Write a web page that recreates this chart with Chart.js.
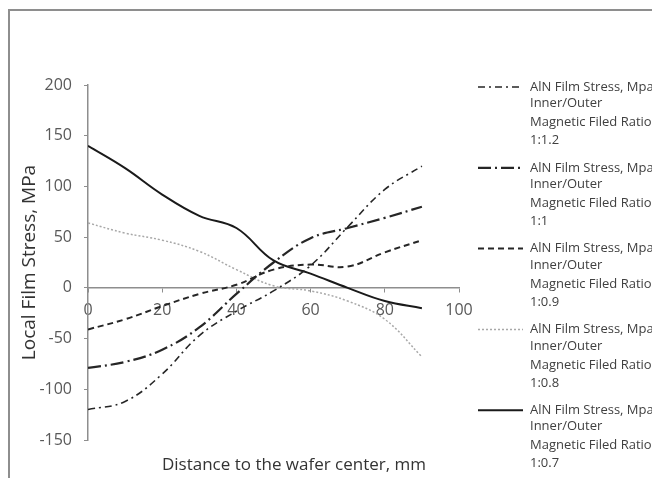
<!DOCTYPE html>
<html>
<head>
<meta charset="utf-8">
<title>AlN Film Stress</title>
<script src="https://cdn.jsdelivr.net/npm/chart.js"></script>
<style>
  body { margin: 0; background: #fff; }
  #wrap { position: relative; width: 652px; height: 478px; overflow: hidden; }
  #frame { position: absolute; left: 8px; top: 9px; right: -4px; bottom: -4px;
           border-left: 2px solid #8e8e8e; border-top: 2px solid #8e8e8e; pointer-events: none; }
</style>
</head>
<body>
<div id="wrap">
  <canvas id="c" width="652" height="478"></canvas>
  <div id="frame"></div>
</div>
<script>
// distance to wafer center, mm
const distance = [0, 10, 20, 30, 40, 50, 60, 70, 80, 90];

// local film stress, MPa, per inner/outer magnetic field ratio
const ratio1_1_2 = [-120, -112, -85, -47, -23, -3, 22, 60, 97, 120];
const ratio1_1   = [-79, -73, -61, -39, -6, 25, 49, 59, 69, 80];
const ratio1_0_9 = [-41, -31, -18, -6, 3, 18, 23, 21, 35, 47];
const ratio1_0_8 = [64, 54, 47, 36, 18, 2, -3, -13, -31, -68];
const ratio1_0_7 = [140, 118, 92, 71, 59, 27, 14, 0, -13, -20];

const ratioLabels = ['1:1.2', '1:1', '1:0.9', '1:0.8', '1:0.7'];
const legendLines = ['AlN Film Stress, Mpa', 'Inner/Outer', 'Magnetic Filed Ratio'];
const xTicks = [0, 20, 40, 60, 80, 100];

const FONT = "'Open Sans', sans-serif";

function pts(arr) { return arr.map((v, i) => ({ x: distance[i], y: v })); }

const styles = [
  { color: '#262626', width: 1.6, dash: [7, 4, 2, 4] },
  { color: '#262626', width: 2.2, dash: [13, 4, 2, 4] },
  { color: '#262626', width: 2, dash: [6, 4] },
  { color: '#a8a8a8', width: 1.5, dash: [2, 2] },
  { color: '#1a1a1a', width: 2, dash: [] }
];

const series = [ratio1_1_2, ratio1_1, ratio1_0_9, ratio1_0_8, ratio1_0_7];

const datasets = series.map((s, i) => ({
  label: ratioLabels[i],
  data: pts(s),
  borderColor: styles[i].color,
  borderWidth: styles[i].width,
  borderDash: styles[i].dash,
  pointRadius: 0,
  tension: 0.4,
  fill: false
}));

// legend on the right, four text lines per entry
const sideLegend = {
  id: 'sideLegend',
  afterDraw(chart) {
    const ctx = chart.ctx;
    ctx.save();
    ctx.font = "13px " + FONT;
    ctx.fillStyle = '#404040';
    ctx.textBaseline = 'middle';
    const offs = [0, 16.5, 35.5, 53.5];
    chart.data.datasets.forEach((ds, i) => {
      const y0 = 87 + i * 80.8;
      ctx.beginPath();
      ctx.strokeStyle = ds.borderColor;
      ctx.lineWidth = ds.borderWidth;
      ctx.setLineDash(ds.borderDash);
      ctx.moveTo(478, y0);
      ctx.lineTo(523, y0);
      ctx.stroke();
      ctx.setLineDash([]);
      const lines = legendLines.concat([ds.label]);
      lines.forEach((t, k) => ctx.fillText(t, 530, y0 + offs[k]));
    });
    ctx.restore();
  }
};

const xTitle = {
  id: 'xTitle',
  afterDraw(chart) {
    const ctx = chart.ctx;
    ctx.save();
    ctx.font = "17px " + FONT;
    ctx.fillStyle = '#333';
    ctx.textAlign = 'center';
    ctx.textBaseline = 'middle';
    ctx.fillText('Distance to the wafer center, mm', 294, 465);
    ctx.restore();
  }
};

new Chart(document.getElementById('c'), {
  type: 'line',
  data: { datasets },
  plugins: [sideLegend, xTitle],
  options: {
    responsive: false,
    animation: false,
    layout: { padding: { top: 85, right: 193, bottom: 38, left: 0 } },
    plugins: { legend: { display: false }, tooltip: { enabled: false } },
    scales: {
      x: {
        type: 'linear',
        min: 0, max: 100,
        position: { y: 0 },
        afterBuildTicks(scale) { scale.ticks = xTicks.map(v => ({ value: v })); },
        grid: { drawOnChartArea: false, tickLength: 4, color: '#8e8e8e' },
        border: { color: '#8e8e8e', width: 1.5 },
        ticks: { color: '#595959', font: { family: FONT, size: 16 }, padding: 9, maxRotation: 0 }
      },
      y: {
        min: -150, max: 200,
        ticks: { stepSize: 50, color: '#595959', font: { family: FONT, size: 16 }, padding: 12 },
        grid: { drawOnChartArea: false, tickLength: 4, color: '#8e8e8e' },
        border: { color: '#8e8e8e', width: 1.5 },
        title: { display: true, text: 'Local Film Stress, MPa', color: '#333',
                 font: { family: FONT, size: 19 }, padding: { top: 18, bottom: 0 } },
        afterFit(scale) { scale.width = 88; }
      }
    }
  }
});
</script>
</body>
</html>
